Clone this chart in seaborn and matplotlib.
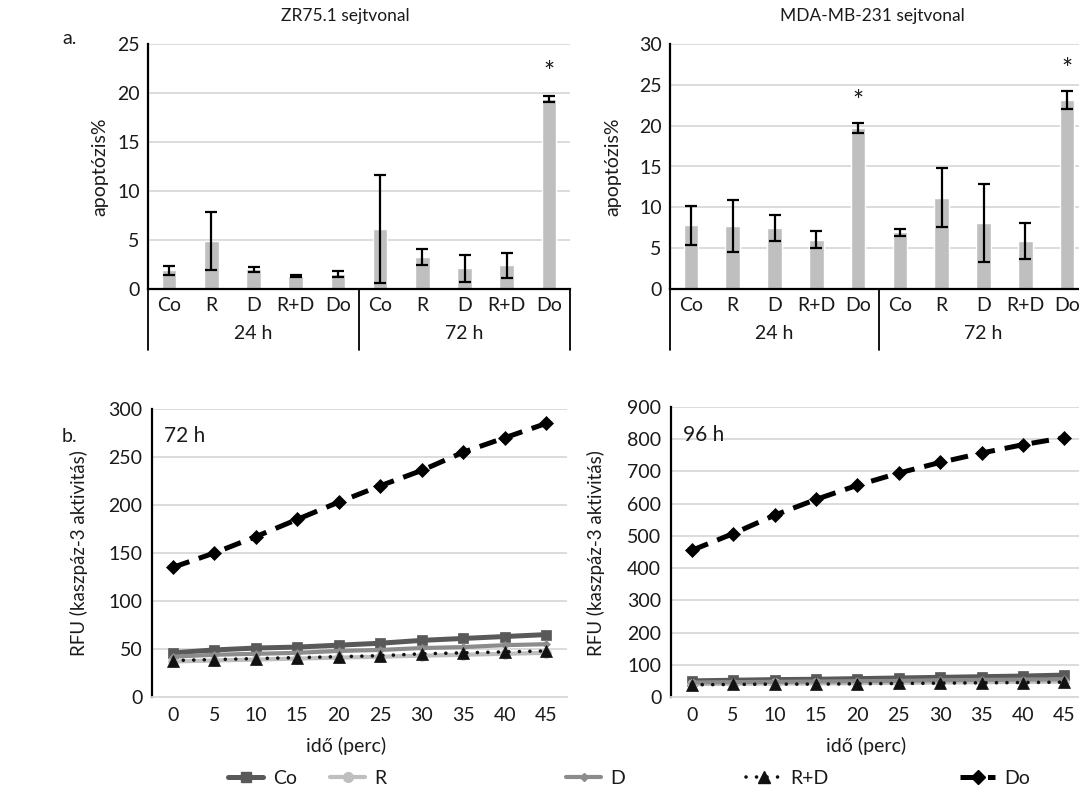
import numpy as np
import pandas as pd
import matplotlib
matplotlib.use("Agg")
import matplotlib.pyplot as plt
from matplotlib.lines import Line2D
from matplotlib.transforms import blended_transform_factory
import seaborn as sns

# ---------------- data ----------------
groups = ["24 h", "72 h"]
cats = ["Co", "R", "D", "R+D", "Do"]

zr_vals = [1.9, 4.9, 2.0, 1.3, 1.5, 6.1, 3.3, 2.1, 2.4, 19.4]
zr_errs = [0.45, 3.0, 0.25, 0.1, 0.3, 5.5, 0.8, 1.4, 1.25, 0.3]
zr_stars = [False, False, False, False, False, False, False, False, False, True]

mda_vals = [7.8, 7.7, 7.45, 6.05, 19.7, 6.95, 11.2, 8.1, 5.9, 23.1]
mda_errs = [2.4, 3.2, 1.6, 1.0, 0.6, 0.45, 3.6, 4.75, 2.2, 1.1]
mda_stars = [False, False, False, False, True, False, False, False, False, True]

times = [0, 5, 10, 15, 20, 25, 30, 35, 40, 45]
series = ["Co", "R", "D", "R+D", "Do"]

h72_Co = [46, 49, 51, 52, 54, 56, 59, 61, 63, 65]
h72_R = [37, 38, 39, 40, 41, 42, 43, 44, 45, 46]
h72_D = [42, 44, 45, 46, 48, 49, 51, 52, 54, 55]
h72_RD = [38, 39, 40, 41, 42, 43, 45, 46, 47, 48]
h72_Do = [135, 150, 167, 185, 203, 220, 236, 255, 270, 285]

h96_Co = [50, 52, 54, 55, 57, 59, 61, 63, 65, 68]
h96_R = [40, 41, 42, 42, 43, 44, 45, 46, 47, 48]
h96_D = [45, 46, 47, 48, 49, 50, 52, 53, 54, 55]
h96_RD = [38, 39, 40, 40, 41, 42, 43, 44, 45, 46]
h96_Do = [455, 507, 564, 613, 657, 695, 728, 757, 783, 805]

# ---------------- style ----------------
sns.set_theme(style="white")
plt.rcParams["font.family"] = ["Lato", "DejaVu Sans"]
TXT = "#1a1a1a"
GRID = "#d9d9d9"
W, H = 1079, 801

fig = plt.figure(figsize=(W / 100, H / 100), dpi=100)


def fx(px):
    return px / W


def fy(py):
    return 1 - py / H


def axes_px(left, right, top, bottom):
    return fig.add_axes([fx(left), fy(bottom), (right - left) / W, (bottom - top) / H])


def bar_panel(ax, vals, errs, stars, ymax):
    keys = [f"{g}|{c}" for g in groups for c in cats]
    df = pd.DataFrame({"key": keys, "val": vals})
    sns.barplot(data=df, x="key", y="val", color="#bfbfbf", saturation=1,
                width=0.35, errorbar=None, ax=ax, zorder=2)
    ax.errorbar(np.arange(len(vals)), vals, yerr=errs, fmt="none",
                ecolor="black", elinewidth=1.6, capsize=4, capthick=1.6, zorder=3)
    for i, (v, e, s) in enumerate(zip(vals, errs, stars)):
        if s:
            ax.text(i, v + e + 1.0, "*", ha="center", va="bottom",
                    fontsize=19, color=TXT)
    ax.set_xlim(-0.5, 9.5)
    ax.set_ylim(0, ymax)
    ax.set_yticks(range(0, ymax + 1, 5))
    ax.yaxis.grid(True, color=GRID, lw=1.3)
    ax.set_axisbelow(True)
    ax.set_xticks(range(10))
    ax.set_xticklabels(cats * 2)
    ax.set_xlabel("")
    ax.set_ylabel("")
    ax.tick_params(axis="both", length=0, labelsize=14, colors=TXT, pad=6)
    for sp in ["top", "right"]:
        ax.spines[sp].set_visible(False)
    for sp in ["left", "bottom"]:
        ax.spines[sp].set_color("black")
        ax.spines[sp].set_linewidth(1.6)
    trans = blended_transform_factory(ax.transData, ax.transAxes)
    for xb in [-0.5, 4.5, 9.5]:
        ax.plot([xb, xb], [0, -0.25], transform=trans, color="black",
                lw=1.3, clip_on=False)
    for gi, g in enumerate(groups):
        ax.text(2 + 5 * gi, -0.18, g, transform=trans, ha="center",
                va="center", fontsize=14, color=TXT)


ax1 = axes_px(148, 570, 44, 289)
bar_panel(ax1, zr_vals, zr_errs, zr_stars, 25)
ax2 = axes_px(670, 1088, 44, 289)
bar_panel(ax2, mda_vals, mda_errs, mda_stars, 30)

fig.text(fx(345), fy(16), "ZR75.1 sejtvonal", ha="center", va="center",
         fontsize=12.5, color=TXT)
fig.text(fx(872), fy(16), "MDA-MB-231 sejtvonal", ha="center", va="center",
         fontsize=12.5, color=TXT)
fig.text(fx(100), fy(167), "apoptózis%", rotation=90, ha="center",
         va="center", fontsize=14, color=TXT)
fig.text(fx(613), fy(167), "apoptózis%", rotation=90, ha="center",
         va="center", fontsize=14, color=TXT)
fig.text(fx(62), fy(38), "a.", ha="left", va="center", fontsize=14, color=TXT)
fig.text(fx(62), fy(436), "b.", ha="left", va="center", fontsize=14, color=TXT)

styles = {
    "Co": dict(color="#595959", lw=3.6, marker="s", markersize=7.5, ls="-"),
    "R": dict(color="#bfbfbf", lw=3.0, marker="o", markersize=7, ls="-"),
    "D": dict(color="#8c8c8c", lw=3.0, marker="D", markersize=4.5, ls="-"),
    "R+D": dict(color="#111111", lw=2.6, marker="^", markersize=8,
                ls=(0, (0.01, 2.9))),
    "Do": dict(color="#000000", lw=3.6, marker="D", markersize=7,
               ls=(0, (3.5, 2.0))),
}


def line_panel(ax, data, ymax, step, label):
    for name, vals in zip(series, data):
        st = styles[name]
        df = pd.DataFrame({"t": times, "v": vals})
        sns.lineplot(data=df, x="t", y="v", ax=ax, color=st["color"],
                     lw=st["lw"], marker=st["marker"], markersize=st["markersize"],
                     markeredgecolor=st["color"], markeredgewidth=0.5,
                     linestyle=st["ls"], zorder=3)
        ln = ax.lines[-1]
        ln.set_dash_capstyle("round" if name == "R+D" else "butt")
    ax.set_xlim(-2.5, 47.5)
    ax.set_ylim(0, ymax)
    ax.set_yticks(range(0, ymax + 1, step))
    ax.set_xticks(times)
    ax.yaxis.grid(True, color=GRID, lw=1.3)
    ax.set_axisbelow(True)
    ax.set_xlabel("")
    ax.set_ylabel("")
    ax.tick_params(axis="both", length=0, labelsize=14, colors=TXT, pad=7)
    for sp in ["top", "right"]:
        ax.spines[sp].set_visible(False)
    ax.spines["left"].set_color("black")
    ax.spines["left"].set_linewidth(1.6)
    ax.spines["bottom"].set_color(GRID)
    ax.spines["bottom"].set_linewidth(1.3)
    ax.text(0.03, 0.905, label, transform=ax.transAxes, ha="left",
            va="center", fontsize=15, color=TXT)


ax3 = axes_px(152, 567, 409, 697)
line_panel(ax3, [h72_Co, h72_R, h72_D, h72_RD, h72_Do], 300, 50, "72 h")
ax4 = axes_px(671, 1085, 407, 697)
line_panel(ax4, [h96_Co, h96_R, h96_D, h96_RD, h96_Do], 900, 100, "96 h")

for x in (79, 596):
    fig.text(fx(x), fy(553), "RFU (kaszpáz-3 aktivitás)", rotation=90,
             ha="center", va="center", fontsize=13.5, color=TXT)
for x in (346, 866):
    fig.text(fx(x), fy(746), "idő (perc)", ha="center", va="center",
             fontsize=14, color=TXT)

legend_x = {"Co": 228, "R": 330, "D": 566, "R+D": 746, "Do": 960}
for name in series:
    st = styles[name]
    h = Line2D([], [], color=st["color"], lw=st["lw"], marker=st["marker"],
               markersize=st["markersize"], markeredgecolor=st["color"],
               linestyle=st["ls"],
               dash_capstyle="round" if name == "R+D" else "butt")
    leg = fig.legend(handles=[h], labels=[name], loc="center left",
                     bbox_to_anchor=(fx(legend_x[name]), fy(778)),
                     frameon=False, fontsize=14, handlelength=1.8,
                     handletextpad=0.5, borderpad=0, borderaxespad=0)
    for t in leg.get_texts():
        t.set_color(TXT)

fig.savefig("out.png", dpi=100)
